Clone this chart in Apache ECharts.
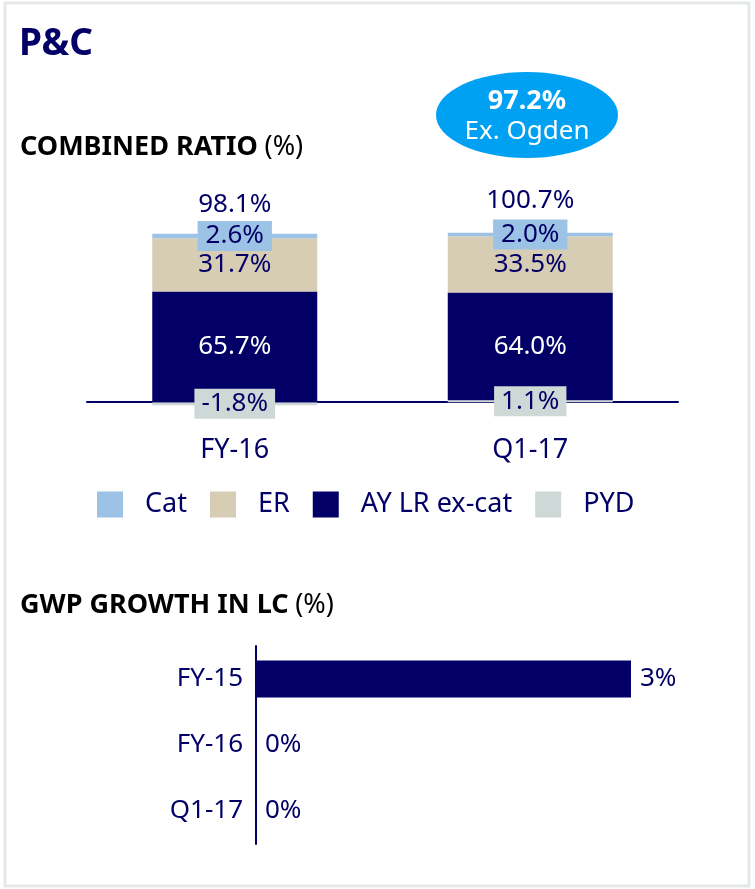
<!DOCTYPE html>
<html>
<head>
<meta charset="utf-8">
<script src="https://cdn.jsdelivr.net/npm/echarts@6/dist/echarts.min.js"></script>
<style>
html,body{margin:0;padding:0;background:#fff;}
#c{width:755px;height:889px;}
</style>
</head>
<body>
<div id="c"></div>
<script>
// ---- data ----
var crCategories = ['FY-16', 'Q1-17'];
var catValues = [2.6, 2.0];
var erValues = [31.7, 33.5];
var ayValues = [65.7, 64.0];
var pydValues = [-1.8, 1.1];
var crTotals = [98.1, 100.7];
var gwpCategories = ['FY-15', 'FY-16', 'Q1-17'];
var gwpValues = [3, 0, 0];
var ogdenValue = '97.2%';
var ogdenText = 'Ex. Ogden';

var NAVY = '#020066';
var FONT = '"Noto Sans", "Open Sans", sans-serif';
var C_CAT = '#9cc3e5', C_ER = '#d6cdb4', C_AY = '#020066', C_PYD = '#ced8d7';

function pct(v){ return v.toFixed(1) + '%'; }

var chart = echarts.init(document.getElementById('c'), null, {renderer:'canvas'});
var option = {
  backgroundColor: '#fff',
  textStyle: {fontFamily: FONT},
  animation: false,
  graphic: [
    {type:'rect', shape:{x:5, y:3, width:744, height:883}, style:{fill:'none', stroke:'#e4e9e8', lineWidth:3}},
    {type:'text', left:19, top:26, style:{text:'P&C', font:'bold 37px ' + FONT, fill:NAVY}},
    {type:'text', left:20, top:134, style:{text:'{b|COMBINED RATIO}  {n|(%)}', rich:{b:{fontWeight:'bold', fontSize:27, fontFamily:FONT, color:NAVY}, n:{fontSize:27, fontFamily:FONT, color:NAVY}}}},
    {type:'text', left:20, top:592, style:{text:'{b|GWP GROWTH IN LC}  {n|(%)}', rich:{b:{fontWeight:'bold', fontSize:27, fontFamily:FONT, color:NAVY}, n:{fontSize:27, fontFamily:FONT, color:NAVY}}}},
    {type:'ellipse', shape:{cx:527, cy:115, rx:91, ry:43}, style:{fill:'#00a0f2'}},
    {type:'text', x:527, y:101, style:{text:ogdenValue, font:'bold 27px ' + FONT, fill:'#fff', align:'center', verticalAlign:'middle'}},
    {type:'text', x:527, y:132, style:{text:ogdenText, font:'26px ' + FONT, fill:'#fff', align:'center', verticalAlign:'middle'}}
  ],
  legend: {
    left: 97, top: 491, padding: 0,
    itemWidth: 26, itemHeight: 26, itemGap: 23,
    icon: 'rect',
    data: ['Cat', 'ER', 'AY LR ex-cat', 'PYD'],
    textStyle: {fontSize: 27, color: NAVY, fontFamily: FONT, padding: [0,0,0,17]}
  },
  grid: [
    {left: 87, width: 591, top: 217, height: 202},
    {left: 256, width: 375, top: 646, height: 198}
  ],
  xAxis: [
    {type:'category', gridIndex:0, data: crCategories,
     axisLine:{onZero:true, lineStyle:{color:NAVY, width:2}}, axisTick:{show:false},
     axisLabel:{color:NAVY, fontSize:27, margin:18, fontFamily:FONT}},
    {type:'value', gridIndex:1, min:0, max:3, show:false, splitLine:{show:false}}
  ],
  yAxis: [
    {type:'value', gridIndex:0, min:-10, max:110, show:false, splitLine:{show:false}},
    {type:'category', gridIndex:1, data: gwpCategories, inverse:true,
     axisLine:{lineStyle:{color:NAVY, width:2}}, axisTick:{show:false},
     axisLabel:{color:NAVY, fontSize:26, margin:13, fontFamily:FONT}}
  ],
  series: [
    {name:'PYD', type:'bar', stack:'cr', xAxisIndex:0, yAxisIndex:0, data: pydValues, barWidth:165, barGap:'-100%',
     itemStyle:{color:C_PYD},
     label:{show:true, position:'inside', formatter:function(p){return pct(p.value);}, color:NAVY, fontSize:26,
       fontFamily:FONT, backgroundColor:C_PYD, padding:[3,7,1,7]}},
    {name:'AY LR ex-cat', type:'bar', stack:'cr', xAxisIndex:0, yAxisIndex:0, data: ayValues, barWidth:165, barGap:'-100%',
     itemStyle:{color:C_AY},
     label:{show:true, position:'inside', formatter:function(p){return pct(p.value);}, color:'#fff', fontSize:26, fontFamily:FONT}},
    {name:'ER', type:'bar', stack:'cr', xAxisIndex:0, yAxisIndex:0, data: erValues, barWidth:165, barGap:'-100%',
     itemStyle:{color:C_ER},
     label:{show:true, position:'inside', formatter:function(p){return pct(p.value);}, color:NAVY, fontSize:26, fontFamily:FONT}},
    {name:'Cat', type:'bar', stack:'cr', xAxisIndex:0, yAxisIndex:0, data: catValues, barWidth:165, barGap:'-100%',
     itemStyle:{color:C_CAT},
     label:{show:true, position:'inside', formatter:function(p){return pct(p.value);}, color:NAVY, fontSize:26,
       fontFamily:FONT, backgroundColor:C_CAT, padding:[3,8,1,8]}},
    {name:'Total', type:'bar', xAxisIndex:0, yAxisIndex:0, data: crTotals, barWidth:165, barGap:'-100%', z:1,
     itemStyle:{color:'rgba(255,255,255,0)'}, silent:true,
     label:{show:true, position:'top', distance:19, formatter:function(p){return pct(p.value);}, color:NAVY, fontSize:26, fontFamily:FONT}},
    {name:'GWP', type:'bar', xAxisIndex:1, yAxisIndex:1, data: gwpValues, barWidth:37,
     itemStyle:{color:NAVY},
     label:{show:true, position:'right', distance:9, formatter:function(p){return p.value + '%';}, color:NAVY, fontSize:26, fontFamily:FONT}}
  ]
};
chart.setOption(option);
</script>
</body>
</html>
